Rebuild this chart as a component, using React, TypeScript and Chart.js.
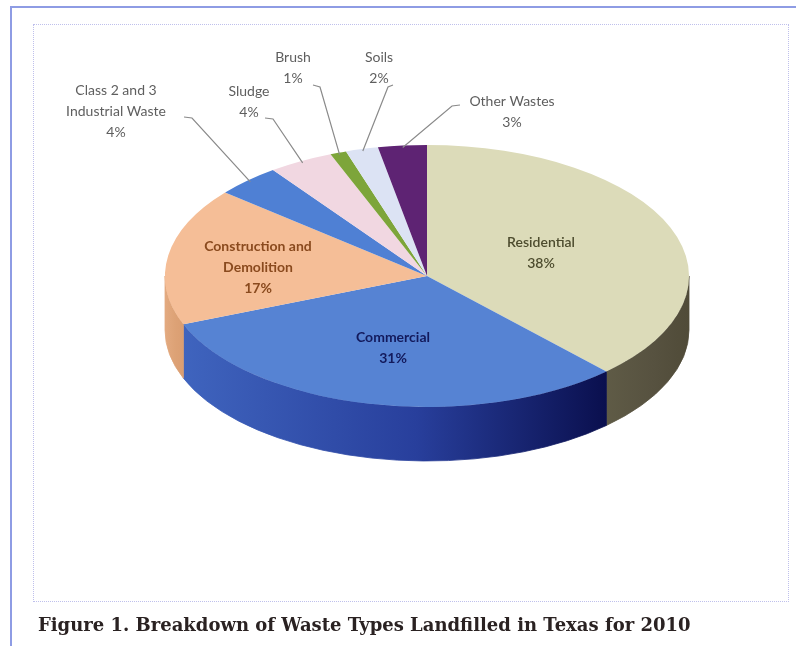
import { useEffect, useRef } from "react";
import { Chart, registerables } from "chart.js";

Chart.register(...registerables);

// ---- data ----
const categories = [
  "Residential",
  "Commercial",
  "Construction and Demolition",
  "Class 2 and 3 Industrial Waste",
  "Sludge",
  "Brush",
  "Soils",
  "Other Wastes",
];
const shares = [38, 31, 17, 4, 4, 1, 2, 3];
const labelTexts = [
  ["Residential", "38%"],
  ["Commercial", "31%"],
  ["Construction and", "Demolition", "17%"],
  ["Class 2 and 3", "Industrial Waste", "4%"],
  ["Sludge", "4%"],
  ["Brush", "1%"],
  ["Soils", "2%"],
  ["Other Wastes", "3%"],
];
const captionText = "Figure 1. Breakdown of Waste Types Landfilled in Texas for 2010";

// ---- styles ----
const topColors = ["#DCDBB9", "#5683D3", "#F5BE97", "#4F80D4", "#F1D7E1", "#7DA53A", "#DCE3F4", "#5E2373"];
const sideColors = [
  ["#5F5B46", "#575240", "#504B38"],
  ["#3F64BE", "#283F9C", "#0A0F4E"],
  ["#E3AA80", "#DDA276", "#DA9E72"],
  ["#3A63B0", "#3A63B0", "#3A63B0"],
  ["#CDB3BE", "#CDB3BE", "#CDB3BE"],
  ["#5F8428", "#5F8428", "#5F8428"],
  ["#B8C1D6", "#B8C1D6", "#B8C1D6"],
  ["#451857", "#451857", "#451857"],
];
const TILT = 0.5;
const DEPTH = 54;

type Lay = {
  x: number;
  y: number;
  color: string;
  weight: string;
  leader?: number[][];
};
const labelLayout: Lay[] = [
  { x: 541, y: 242, color: "#4D4C2E", weight: "600" },
  { x: 393, y: 337, color: "#131A5C", weight: "bold" },
  { x: 258, y: 246, color: "#8A4A1E", weight: "bold" },
  { x: 116, y: 90, color: "#5E5E5E", weight: "normal", leader: [[184, 117], [192, 118]] },
  { x: 249, y: 91, color: "#5E5E5E", weight: "normal", leader: [[265, 118], [273, 119]] },
  { x: 293, y: 57, color: "#5E5E5E", weight: "normal", leader: [[313, 85], [320, 87]] },
  { x: 379, y: 57, color: "#5E5E5E", weight: "normal", leader: [[393, 85], [388, 87]] },
  { x: 512, y: 101, color: "#5E5E5E", weight: "normal", leader: [[460, 105], [452, 106]] },
];
const LINE_H = 21;

const pie3d = {
  id: "pie3d",
  beforeDatasetsDraw(chart: any) {
    const ctx: CanvasRenderingContext2D = chart.ctx;
    const arcs = chart.getDatasetMeta(0).data;
    const cx = arcs[0].x;
    const cy = arcs[0].y;
    const r = arcs[0].outerRadius;
    const ry = r * TILT;
    ctx.save();
    arcs.forEach((arc: any, i: number) => {
      const a1 = Math.max(arc.startAngle, 0);
      const a2 = Math.min(arc.endAngle, Math.PI);
      if (a2 <= a1) return;
      const g = ctx.createLinearGradient(cx + r * Math.cos(a2), 0, cx + r * Math.cos(a1) + 0.01, 0);
      g.addColorStop(0, sideColors[i][0]);
      g.addColorStop(0.55, sideColors[i][1]);
      g.addColorStop(1, sideColors[i][2]);
      ctx.beginPath();
      ctx.ellipse(cx, cy, r, ry, 0, a1, a2, false);
      ctx.ellipse(cx, cy + DEPTH, r, ry, 0, a2, a1, true);
      ctx.closePath();
      ctx.fillStyle = g;
      ctx.strokeStyle = g;
      ctx.lineWidth = 0.8;
      ctx.fill();
      ctx.stroke();
    });
    ctx.translate(0, cy);
    ctx.scale(1, TILT);
    ctx.translate(0, -cy);
  },
  afterDatasetsDraw(chart: any) {
    const ctx: CanvasRenderingContext2D = chart.ctx;
    ctx.restore();
    const arcs = chart.getDatasetMeta(0).data;
    const cx = arcs[0].x;
    const cy = arcs[0].y;
    const r = arcs[0].outerRadius;
    const ry = r * TILT;
    ctx.save();
    arcs.forEach((arc: any, i: number) => {
      const lay = labelLayout[i];
      if (lay.leader) {
        const mid = (arc.startAngle + arc.endAngle) / 2;
        const ex = cx + r * 0.985 * Math.cos(mid);
        const ey = cy + ry * 0.985 * Math.sin(mid);
        ctx.beginPath();
        ctx.moveTo(lay.leader[0][0], lay.leader[0][1]);
        ctx.lineTo(lay.leader[1][0], lay.leader[1][1]);
        ctx.lineTo(ex, ey);
        ctx.strokeStyle = "#8A8A8A";
        ctx.lineWidth = 1.2;
        ctx.stroke();
      }
      ctx.font = `${lay.weight} 14px Lato`;
      ctx.fillStyle = lay.color;
      ctx.textAlign = "center";
      ctx.textBaseline = "middle";
      labelTexts[i].forEach((t, j) => {
        ctx.fillText(t, lay.x, lay.y + j * LINE_H);
      });
    });
    ctx.restore();
  },
};

export default function App() {
  const ref = useRef<HTMLCanvasElement | null>(null);
  useEffect(() => {
    document.body.style.margin = "0";
    const chart = new Chart(ref.current as HTMLCanvasElement, {
      type: "pie",
      data: {
        labels: categories,
        datasets: [
          {
            data: shares,
            backgroundColor: topColors,
            borderWidth: 0,
            hoverOffset: 0,
            offset: 0,
          },
        ],
      },
      options: {
        animation: false,
        responsive: false,
        devicePixelRatio: 1,
        events: [],
        layout: { padding: { left: 165, right: 107, top: 14, bottom: 108 } },
        plugins: { legend: { display: false }, tooltip: { enabled: false } },
      },
      plugins: [pie3d],
    });
    return () => chart.destroy();
  }, []);

  return (
    <div style={{ position: "fixed", left: 0, top: 0, width: 796, height: 646, background: "#fff", overflow: "hidden" }}>
      <div style={{ position: "absolute", left: 10, top: 6, width: 2, height: 640, background: "#8E9CE4" }} />
      <div style={{ position: "absolute", left: 10, top: 6, width: 786, height: 2, background: "#8E9CE4" }} />
      <div
        style={{
          position: "absolute",
          left: 33,
          top: 24,
          width: 754,
          height: 576,
          border: "1px dotted #BFC0EC",
        }}
      />
      <canvas ref={ref} width={796} height={646} style={{ position: "absolute", left: 0, top: 0 }} />
      <div
        style={{
          position: "absolute",
          left: 38,
          top: 614,
          font: "bold 18px 'DejaVu Serif'",
          color: "#2A2222",
          whiteSpace: "nowrap",
        }}
      >
        {captionText}
      </div>
    </div>
  );
}
